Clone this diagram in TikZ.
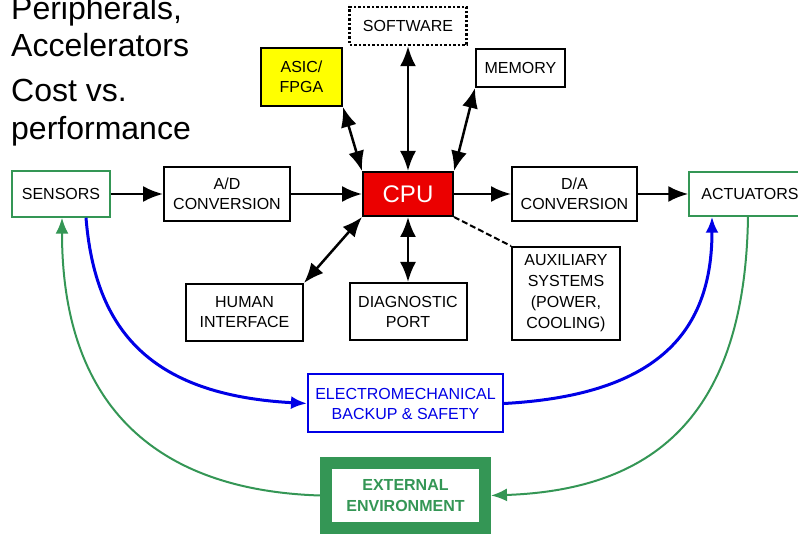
\documentclass[tikz,border=0pt]{standalone}
\usepackage{fontspec}
\setmainfont{Liberation Sans}
\usetikzlibrary{arrows.meta}
\definecolor{envgreen}{RGB}{52,150,85}
\definecolor{cpured}{RGB}{235,0,0}
\definecolor{asicyellow}{RGB}{255,255,0}
\definecolor{safeblue}{RGB}{0,0,230}
\tikzset{
  blk/.style={draw, line width=2pt, align=center, inner sep=1pt, font=\fontsize{16}{20}\selectfont},
  bigtip/.style={-{Latex[length=20pt,width=16pt]}, line width=2.5pt},
  dbl/.style={{Latex[length=20pt,width=16pt]}-{Latex[length=20pt,width=16pt]}, line width=2.5pt},
  loopline/.style={line width=2pt, -{Latex[length=16pt,width=13pt]}},
  note/.style={anchor=base west, inner sep=0pt, font=\fontsize{32}{37}\selectfont}
}
\begin{document}
\begin{tikzpicture}[x=1pt,y=-1pt]
      \clip (0,0) rectangle (798,534);
      % side notes
      \node[note] (peri) at (11,20) {Peripherals,};
      \node[note] (accel) at (11,57) {Accelerators};
      \node[note] (cost) at (11,102) {Cost vs.};
      \node[note] (perf) at (11,140) {performance};
      % blocks round the cpu
      \node[blk, line width=2.5pt, dash pattern=on 2.5pt off 2pt, minimum width=117pt, minimum height=38pt] (software) at (408,26) {SOFTWARE};
      \node[blk, fill=asicyellow, minimum width=81pt, minimum height=58pt] (asic) at (301.5,77) {ASIC/\\FPGA};
      \node[blk, minimum width=89pt, minimum height=38pt] (memory) at (520.5,68) {MEMORY};
      \node[blk, draw=envgreen, line width=1.5pt, minimum width=98pt, minimum height=46pt] (sensors) at (61,194) {SENSORS};
      \node[blk, minimum width=126pt, minimum height=54pt] (adc) at (227,194) {A/D\\CONVERSION};
      \node[blk, fill=cpured, text=white, font=\fontsize{24}{28}\selectfont, minimum width=90pt, minimum height=44pt] (cpu) at (408,194) {CPU};
      \node[blk, minimum width=125pt, minimum height=54pt] (dac) at (574.5,194) {D/A\\CONVERSION};
      \node[blk, draw=envgreen, line width=1.5pt, minimum width=122pt, minimum height=44pt] (actuators) at (750,194) {ACTUATORS};
      \node[blk, minimum width=117pt, minimum height=57pt] (human) at (244.5,312.5) {HUMAN\\INTERFACE};
      \node[blk, minimum width=117pt, minimum height=57pt] (diag) at (408,311.5) {DIAGNOSTIC\\PORT};
      \node[blk, font=\fontsize{16}{21}\selectfont, minimum width=108pt, minimum height=93pt] (aux) at (566,293.5) {AUXILIARY\\SYSTEMS\\(POWER,\\COOLING)};
      \node[blk, draw=safeblue, text=safeblue, inner sep=0pt, minimum width=195pt, minimum height=58pt] (emb) at (405.5,403.5) {ELECTROMECHANICAL\\BACKUP \& SAFETY};
      \node[blk, draw=envgreen, text=envgreen, line width=12pt, font=\fontsize{16}{21}\selectfont\bfseries, minimum width=159pt, minimum height=65pt] (env) at (405.5,495.5) {EXTERNAL\\ENVIRONMENT};
      % signal chain
      \draw[bigtip] (sensors) -- (adc);
      \draw[bigtip] (adc) -- (cpu);
      \draw[bigtip] (cpu) -- (dac);
      \draw[bigtip] (dac) -- (actuators);
      % links to the cpu
      \draw[dbl] (cpu) -- (software);
      \draw[dbl] (cpu.north west) -- (asic.south east);
      \draw[dbl] (cpu.north east) -- (memory.south west);
      \draw[dbl] (cpu.south west) -- (human.north east);
      \draw[dbl] (cpu) -- (diag);
      \draw[line width=2pt, dash pattern=on 6pt off 3pt] (cpu.south east) -- (aux.north west);
      % backup path
      \draw[loopline, safeblue, line width=3pt] ([xshift=25pt]sensors.south) .. controls (95,330) and (150,395) .. (emb.west);
      \draw[loopline, safeblue, line width=3pt] (emb.east) .. controls (660,395) and (712,330) .. ([xshift=-38pt]actuators.south);
      % environment loop
      \draw[loopline, envgreen] (env.west) .. controls (150,490) and (62,400) .. ([xshift=1pt]sensors.south);
      \draw[loopline, envgreen] ([xshift=-2pt]actuators.south) .. controls (745,420) and (650,490) .. (env.east);
   \end{tikzpicture}
\end{document}
